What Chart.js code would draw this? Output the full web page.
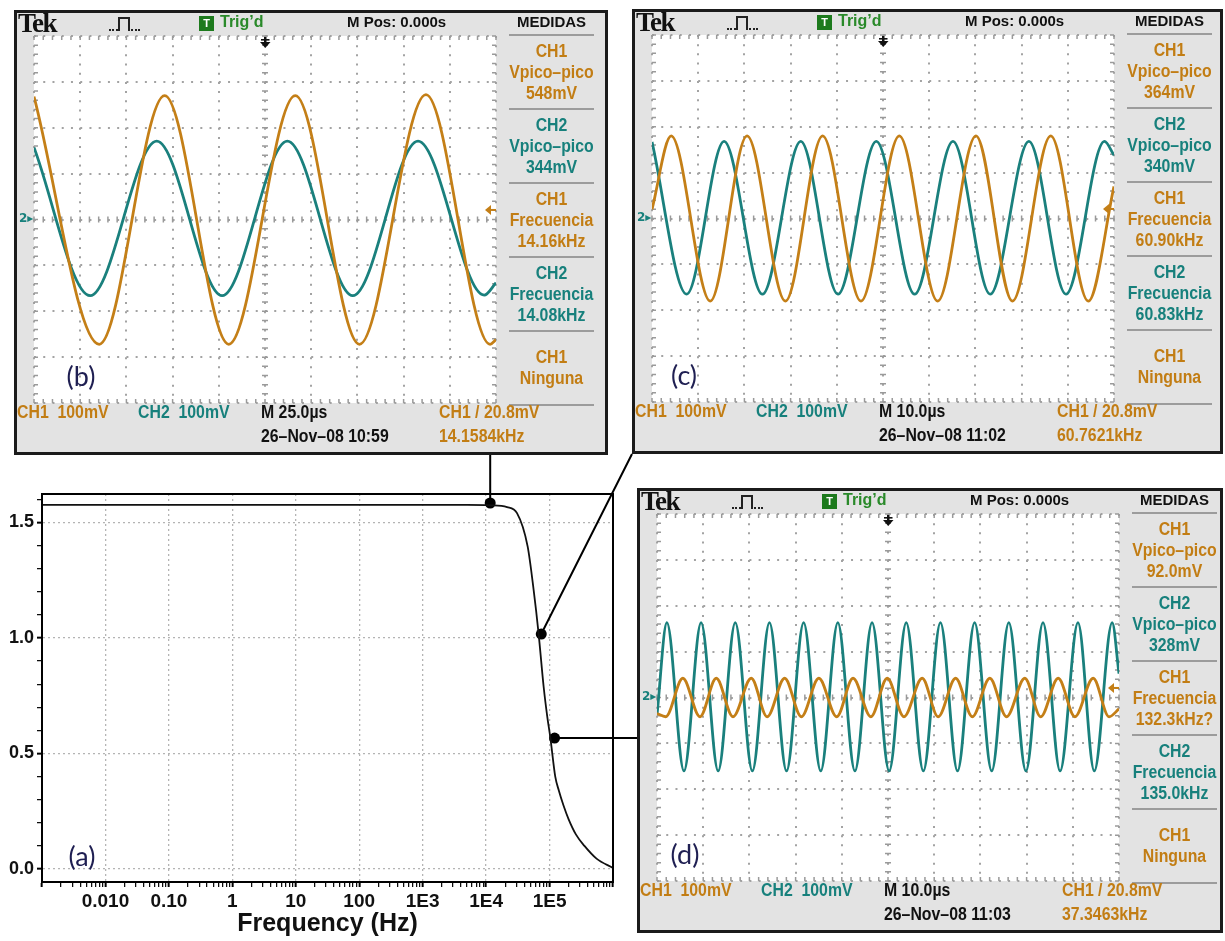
<!DOCTYPE html>
<html>
<head>
<meta charset="utf-8">
<script src="https://cdn.jsdelivr.net/npm/chart.js@4.4.0/dist/chart.umd.min.js"></script>
<style>
html, body { margin: 0; padding: 0; background: #fff; width: 1225px; height: 941px; overflow: hidden; }
#mainWrap { position: absolute; left: 0; top: 0; width: 1225px; height: 941px; z-index: 0; }
.tagA { position: absolute; left: 82px; top: 855px; transform: translate(-50%, -50%); font: 27px Lato, 'Liberation Sans', sans-serif; color: #1f1f52; z-index: 2; }
.scope { position: absolute; box-sizing: border-box; border: 3px solid #1b1b1b; background: #e3e3e3; z-index: 1;
  font-family: 'Liberation Sans', Arial, sans-serif; }
.scope .screen { position: absolute; left: 15px; top: 21px; width: 466px; height: 371px; }
.scope .tek { position: absolute; left: 1px; top: -5px; line-height: 27px; font: bold 27px 'Liberation Serif', 'DejaVu Serif', serif; letter-spacing: -1.5px; color: #111; }
.scope .pulse { position: absolute; left: 92px; top: 4px; width: 32px; height: 14px; }
.scope .pulse i { position: absolute; bottom: 0; display: block; }
.scope .pulse .d1 { left: 0; width: 9px; border-bottom: 2px dotted #222; }
.scope .pulse .p { left: 9px; width: 8px; height: 12px; border: 2px solid #222; border-bottom: none; }
.scope .pulse .d2 { left: 19px; width: 12px; border-bottom: 2px dotted #222; }
.scope .tbox { position: absolute; left: 182px; top: 3px; width: 15px; height: 15px; background: #1d7a1d; color: #fff; font: bold 11px 'Liberation Sans', sans-serif; text-align: center; line-height: 15px; }
.scope .trig { position: absolute; left: 203px; top: 0; line-height: 21px; font: bold 16px 'Liberation Sans', sans-serif; color: #2a8a2a; }
.scope .mpos { position: absolute; left: 330px; top: 0; line-height: 21px; font: bold 15px 'Liberation Sans', sans-serif; color: #111; }
.scope .col { position: absolute; left: 492px; top: 0; width: 85px; height: 439px; }
.scope .medidas { position: absolute; left: -6px; right: -6px; top: 0; line-height: 21px; text-align: center; font: bold 15px 'Liberation Sans', sans-serif; color: #111; }
.scope .sep { position: absolute; left: 0; width: 85px; height: 2px; background: #9c9c9c; }
.scope .cell { position: absolute; left: -12px; width: 109px; height: 72px; display: flex; flex-direction: column; justify-content: center; align-items: center;
  font: bold 18px 'Liberation Sans', sans-serif; transform: scaleX(0.88); }
.scope .cell span { line-height: 21px; white-space: nowrap; }
.scope .bot { position: absolute; line-height: 22px; white-space: pre; font: bold 18px 'Liberation Sans', sans-serif; transform: scaleX(0.88); transform-origin: 0 50%; }
.scope .gnd { position: absolute; left: 2px; top: 198px; font: bold 12px 'DejaVu Sans', sans-serif; color: #17807c; }
.scope .tag { position: absolute; transform: translate(-50%, -50%); font: 27px Lato, 'Liberation Sans', sans-serif; color: #1f1f52; }
.o { color: #c27d14; }
.t { color: #17807c; }
.k { color: #111; }
</style>
</head>
<body>
<div id="mainWrap"><canvas id="mainChart"></canvas></div>
<div class="tagA">(a)</div>
<div class="scope" id="scopeB" style="left:14px; top:10px; width:594px; height:445px;"></div>
<div class="scope" id="scopeC" style="left:632px; top:9px; width:591px; height:445px;"></div>
<div class="scope" id="scopeD" style="left:637px; top:488px; width:586px; height:445px;"></div>

<script>
// (a) frequency response
const freqHz = [0.001, 1000, 5000, 11600, 21400, 30700, 45200, 56100, 67300, 80700, 92000, 103000, 123000, 140000, 166000, 200000, 260000, 355000, 550000, 1000000];
const gain = [1.576, 1.576, 1.576, 1.574, 1.566, 1.54, 1.395, 1.208, 1.017, 0.789, 0.66, 0.568, 0.40, 0.34, 0.275, 0.215, 0.15, 0.10, 0.045, 0.005];
// measurement points linked to the scope captures
const markFreq = [11600, 74000, 120000];
const markGain = [1.584, 1.017, 0.567];
const decadeLabels = { '-2': '0.010', '-1': '0.10', '0': '1', '1': '10', '2': '100', '3': '1E3', '4': '1E4', '5': '1E5' };

// scope (b): 25 us/div, 100 mV/div  (extrema and edge values of each trace)
const bCh1T = [-125, -89.7, -54.3, -19.6, 16.4, 51.1, 87.1, 121.8, 125];
const bCh1V = [268, -272, 270, -272, 270, -272, 272, -272, -262];
const bCh2T = [-125, -94.6, -58.6, -23.2, 12.1, 47.5, 82.8, 118.6, 125];
const bCh2V = [157, -166, 171, -166, 171, -166, 171, -165, -138];

// scope (c): 10 us/div
const cCh1T = [-50, -45.85, -37.39, -29.42, -21.12, -13.07, -4.77, 3.53, 11.83, 20.12, 28.01, 36.31, 44.44, 50];
const cCh1V = [20, 180, -180, 180, -180, 180, -180, 180, -180, 180, -180, 180, -180, 70];
const cCh2T = [-50, -42.5, -34.4, -26.1, -17.8, -9.75, -1.45, 6.85, 15.15, 23.2, 31.58, 39.6, 47.93, 50];
const cCh2V = [167, -165, 168, -165, 168, -165, 168, -165, 168, -165, 168, -165, 168, 138];

// scope (d): 10 us/div
const dCh1T = [-50, -48.11, -44.41, -40.7, -37.17, -33.55, -29.6, -26.15, -22.37, -18.75, -14.97, -11.1, -7.57, -3.7, -0.16,
  3.45, 7.4, 10.86, 14.64, 18.26, 22.04, 25.66, 29.61, 33.06, 36.84, 40.46, 44.41, 47.86, 50];
const dCh1V = [-35, -42, 42, -42, 42, -42, 42, -42, 42, -42, 42, -42, 42, -42, 42,
  -42, 42, -42, 42, -42, 42, -42, 42, -42, 42, -42, 42, -42, -25];
const dCh2T = [-50, -47.86, -44.16, -40.46, -36.76, -33.06, -29.36, -25.66, -21.96, -18.26, -14.56, -10.86, -7.16, -3.45, 0.25,
  3.95, 7.65, 11.35, 15.05, 18.75, 22.45, 26.15, 29.85, 33.55, 37.25, 41.12, 44.65, 48.52, 50];
const dCh2V = [-38, 163, -160, 163, -160, 163, -160, 163, -160, 163, -160, 163, -160, 163, -160,
  163, -160, 163, -160, 163, -160, 163, -160, 163, -160, 163, -160, 163, 52];

const trigLevelMv = 20.8;

// readouts shown on each screen
const bMeas = ['548mV', '344mV', '14.16kHz', '14.08kHz'];
const cMeas = ['364mV', '340mV', '60.90kHz', '60.83kHz'];
const dMeas = ['92.0mV', '328mV', '132.3kHz?', '135.0kHz'];
const bFoot = ['M 25.0\u00b5s', '26\u2013Nov\u201308 10:59', '14.1584kHz'];
const cFoot = ['M 10.0\u00b5s', '26\u2013Nov\u201308 11:02', '60.7621kHz'];
const dFoot = ['M 10.0\u00b5s', '26\u2013Nov\u201308 11:03', '37.3463kHz'];

const ORANGE = '#c47f17';
const TEAL = '#1a807d';

function fillScope(box, meas, foot, tag, tagLeft) {
  const cellCls = ['o', 't', 'o', 't'];
  const cellTop = ['CH1', 'CH2', 'CH1', 'CH2'];
  const cellMid = ['Vpico\u2013pico', 'Vpico\u2013pico', 'Frecuencia', 'Frecuencia'];
  let col = '<div class="medidas">MEDIDAS</div>';
  for (let k = 0; k < 6; k++) col += `<div class="sep" style="top:${21 + 74 * k}px"></div>`;
  meas.forEach((m, k) => {
    col += `<div class="cell ${cellCls[k]}" style="top:${23 + 74 * k}px"><span>${cellTop[k]}</span><span>${cellMid[k]}</span><span>${m}</span></div>`;
  });
  col += `<div class="cell o" style="top:${23 + 74 * 4}px"><span>CH1</span><span>Ninguna</span></div>`;
  box.innerHTML = `
    <div class="tek">Tek</div>
    <div class="pulse"><i class="d1"></i><i class="p"></i><i class="d2"></i></div>
    <div class="tbox">T</div><div class="trig">Trig\u2019d</div>
    <div class="mpos">M Pos: 0.000s</div>
    <div class="col">${col}</div>
    <div class="screen"><canvas></canvas></div>
    <div class="gnd">2\u25b8</div>
    <div class="tag" style="left:${tagLeft}px; top:362px">${tag}</div>
    <div class="bot o" style="left:0; top:389px">CH1  100mV</div>
    <div class="bot t" style="left:121px; top:389px">CH2  100mV</div>
    <div class="bot k" style="left:244px; top:389px">${foot[0]}</div>
    <div class="bot k" style="left:244px; top:413px">${foot[1]}</div>
    <div class="bot o" style="left:422px; top:389px">CH1 / 20.8mV</div>
    <div class="bot o" style="left:422px; top:413px">${foot[2]}</div>`;
  return box.querySelector('canvas');
}

const scopeMarks = {
  id: 'scopeMarks',
  beforeDraw(chart) {
    const { ctx, chartArea: a } = chart;
    ctx.save();
    ctx.fillStyle = '#fff';
    ctx.fillRect(a.left, a.top, a.right - a.left, a.bottom - a.top);
    ctx.restore();
  },
  beforeDatasetsDraw(chart) {
    const { ctx, chartArea: a, scales: { x, y } } = chart;
    const xStep = (x.max - x.min) / 50;
    const yStep = (y.max - y.min) / 40;
    const cx = x.getPixelForValue(0);
    const cy = y.getPixelForValue(0);
    ctx.save();
    ctx.strokeStyle = '#9a9a9a';
    ctx.lineWidth = 1.5;
    ctx.beginPath();
    for (let i = 0; i <= 50; i++) {
      const px = x.getPixelForValue(x.min + i * xStep);
      ctx.moveTo(px, a.top); ctx.lineTo(px, a.top + 4);
      ctx.moveTo(px, a.bottom); ctx.lineTo(px, a.bottom - 4);
      ctx.moveTo(px, cy - 3); ctx.lineTo(px, cy + 3);
    }
    for (let i = 0; i <= 40; i++) {
      const py = y.getPixelForValue(y.min + i * yStep);
      ctx.moveTo(a.left, py); ctx.lineTo(a.left + 4, py);
      ctx.moveTo(a.right, py); ctx.lineTo(a.right - 4, py);
      ctx.moveTo(cx - 3, py); ctx.lineTo(cx + 3, py);
    }
    ctx.stroke();
    ctx.restore();
  },
  afterDatasetsDraw(chart) {
    const { ctx, chartArea: a, scales: { x, y } } = chart;
    const cx = x.getPixelForValue(0);
    const ty = y.getPixelForValue(trigLevelMv);
    ctx.save();
    // trigger position arrow
    ctx.fillStyle = '#111';
    ctx.fillRect(cx - 1, a.top + 1, 2.5, 6);
    ctx.fillRect(cx - 4, a.top + 3, 8.5, 1.6);
    ctx.beginPath();
    ctx.moveTo(cx - 5, a.top + 6); ctx.lineTo(cx + 5.5, a.top + 6); ctx.lineTo(cx + 0.25, a.top + 12);
    ctx.closePath(); ctx.fill();
    // trigger level arrow
    ctx.fillStyle = ORANGE; ctx.strokeStyle = ORANGE; ctx.lineWidth = 2;
    ctx.beginPath();
    ctx.moveTo(a.right - 11, ty); ctx.lineTo(a.right - 5, ty - 5); ctx.lineTo(a.right - 5, ty + 5);
    ctx.closePath(); ctx.fill();
    ctx.beginPath(); ctx.moveTo(a.right - 6, ty); ctx.lineTo(a.right, ty); ctx.stroke();
    ctx.restore();
  }
};

function makeScope(canvas, xMin, xMax, ch1T, ch1V, ch2T, ch2V) {
  const xDash = [2, 367 / 40 - 2];
  const yDash = [2, 462 / 50 - 2];
  return new Chart(canvas, {
    type: 'line',
    data: {
      datasets: [
        { label: 'CH1', data: ch1T.map((t, i) => ({ x: t, y: ch1V[i] })), borderColor: ORANGE, borderWidth: 2.8,
          pointRadius: 0, cubicInterpolationMode: 'monotone' },
        { label: 'CH2', data: ch2T.map((t, i) => ({ x: t, y: ch2V[i] })), borderColor: TEAL, borderWidth: 2.8,
          pointRadius: 0, cubicInterpolationMode: 'monotone' }
      ]
    },
    options: {
      animation: false, responsive: true, maintainAspectRatio: false, events: [],
      layout: { padding: 2 },
      plugins: { legend: { display: false }, tooltip: { enabled: false } },
      scales: {
        x: { type: 'linear', min: xMin, max: xMax, ticks: { display: false, stepSize: (xMax - xMin) / 10 },
          grid: { color: '#a3a3a3', lineWidth: 2, drawTicks: false, borderDash: xDash },
          border: { display: false, dash: xDash } },
        y: { type: 'linear', min: -400, max: 400, ticks: { display: false, stepSize: 100 },
          grid: { color: '#a3a3a3', lineWidth: 2, drawTicks: false, borderDash: yDash },
          border: { display: false, dash: yDash } }
      }
    },
    plugins: [scopeMarks]
  });
}

const boxB = document.getElementById('scopeB');
const boxC = document.getElementById('scopeC');
const boxD = document.getElementById('scopeD');
makeScope(fillScope(boxB, bMeas, bFoot, '(b)', 64), -125, 125, bCh1T, bCh1V, bCh2T, bCh2V);
makeScope(fillScope(boxC, cMeas, cFoot, '(c)', 49), -50, 50, cCh1T, cCh1V, cCh2T, cCh2V);
makeScope(fillScope(boxD, dMeas, dFoot, '(d)', 45), -50, 50, dCh1T, dCh1V, dCh2T, dCh2V);

function isDecade(v) {
  const l = Math.log10(v);
  return Math.abs(l - Math.round(l)) < 1e-6;
}
function isHalfStep(v) {
  return Math.abs(v * 2 - Math.round(v * 2)) < 1e-6;
}
function intMantissa(v) {
  const m = v / Math.pow(10, Math.floor(Math.log10(v) + 1e-9));
  return Math.abs(m - Math.round(m)) < 1e-6;
}

const frameAndLinks = {
  id: 'frameAndLinks',
  afterDraw(chart) {
    const { ctx, chartArea: a } = chart;
    const pts = chart.getDatasetMeta(1).data;
    ctx.save();
    ctx.strokeStyle = '#000';
    ctx.lineWidth = 2;
    ctx.strokeRect(a.left, a.top, a.right - a.left, a.bottom - a.top);
    ctx.beginPath();
    ctx.moveTo(pts[0].x, pts[0].y);
    ctx.lineTo(pts[0].x, boxB.offsetTop + boxB.offsetHeight);
    ctx.moveTo(pts[1].x, pts[1].y);
    ctx.lineTo(boxC.offsetLeft, boxC.offsetTop + boxC.offsetHeight);
    ctx.moveTo(pts[2].x, pts[2].y);
    ctx.lineTo(boxD.offsetLeft, pts[2].y);
    ctx.stroke();
    ctx.restore();
  }
};

new Chart(document.getElementById('mainChart'), {
  type: 'line',
  data: {
    datasets: [
      { label: 'response', data: freqHz.map((f, i) => ({ x: f, y: gain[i] })), borderColor: '#111', borderWidth: 1.8,
        pointRadius: 0, cubicInterpolationMode: 'monotone' },
      { label: 'points', data: markFreq.map((f, i) => ({ x: f, y: markGain[i] })), showLine: false,
        pointRadius: 5.5, pointBackgroundColor: '#000', pointBorderColor: '#000', pointBorderWidth: 0 }
    ]
  },
  options: {
    animation: false, responsive: true, maintainAspectRatio: false, events: [],
    layout: { padding: { left: 0, right: 612, top: 494, bottom: 0 } },
    plugins: { legend: { display: false }, tooltip: { enabled: false } },
    scales: {
      x: {
        type: 'logarithmic', min: 0.001, max: 1000000,
        afterFit(s) { s.height = 59; },
        ticks: {
          autoSkip: false, maxRotation: 0, padding: 3, color: '#111',
          font: { family: "'Liberation Sans', Arial, sans-serif", size: 19, weight: 'bold' },
          callback(v) {
            if (!isDecade(v)) return '';
            const lbl = decadeLabels[String(Math.round(Math.log10(v)))];
            return lbl === undefined ? '' : lbl;
          }
        },
        grid: {
          lineWidth: 1.3, tickLength: 5,
          color: ctx => (ctx.tick && isDecade(ctx.tick.value)) ? '#b4b4b4' : 'rgba(0,0,0,0)',
          tickColor: ctx => (ctx.tick && intMantissa(ctx.tick.value)) ? '#000' : 'rgba(0,0,0,0)',
          tickWidth: ctx => (ctx.tick && isDecade(ctx.tick.value)) ? 2 : 1.2
        },
        border: { display: true, color: '#000', width: 2, dash: [2, 3] },
        title: { display: true, text: 'Frequency (Hz)', color: '#111', padding: { top: 0, bottom: 2 },
          font: { family: "'Liberation Sans', Arial, sans-serif", size: 25, weight: 'bold' } }
      },
      y: {
        type: 'linear', min: -0.056, max: 1.623,
        afterFit(s) { s.width = 42; },
        ticks: {
          stepSize: 0.1, includeBounds: false, autoSkip: false, padding: 3, color: '#111',
          font: { family: "'Liberation Sans', Arial, sans-serif", size: 18, weight: 'bold' },
          callback(v) { return isHalfStep(v) ? Math.abs(v).toFixed(1) : ''; }
        },
        grid: {
          lineWidth: 1.3, tickLength: 5,
          color: ctx => (ctx.tick && isHalfStep(ctx.tick.value)) ? '#b4b4b4' : 'rgba(0,0,0,0)',
          tickColor: '#000',
          tickWidth: ctx => (ctx.tick && isHalfStep(ctx.tick.value)) ? 2 : 1.2
        },
        border: { display: true, color: '#000', width: 2, dash: [2, 3] }
      }
    }
  },
  plugins: [frameAndLinks]
});
</script>
</body>
</html>
